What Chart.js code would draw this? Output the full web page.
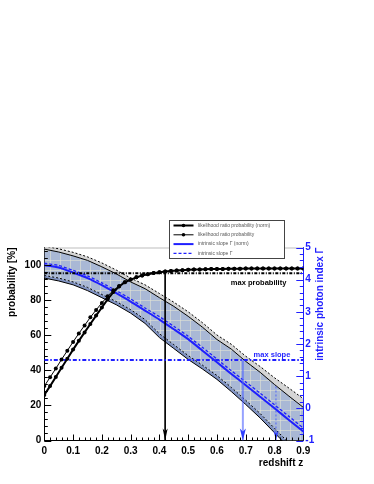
<!DOCTYPE html>
<html>
<head>
<meta charset="utf-8">
<script src="https://cdn.jsdelivr.net/npm/chart.js@4.4.0/dist/chart.umd.min.js"></script>
<style>
  html, body { margin: 0; padding: 0; background: #fff; }
  #c { display: block; }
</style>
</head>
<body>
<canvas id="c" width="374" height="484"></canvas>
<script>
const FONT = "'Liberation Sans', Arial, Helvetica, sans-serif";
const BLUE = '#1f1fff';

// redshift grid of the likelihood curves
const zProb = [0, 0.02, 0.04, 0.06, 0.08, 0.1, 0.12, 0.14, 0.16, 0.18,
  0.2, 0.22, 0.24, 0.26, 0.28, 0.3, 0.32, 0.34, 0.36, 0.38,
  0.4, 0.42, 0.44, 0.46, 0.48, 0.5, 0.52, 0.54, 0.56, 0.58,
  0.6, 0.62, 0.64, 0.66, 0.68, 0.7, 0.72, 0.74, 0.76, 0.78,
  0.8, 0.82, 0.84, 0.86, 0.88, 0.9];

// likelihood ratio probability [%]
const probNorm = [26, 31, 36.2, 41.5, 46.6, 51.8, 56.8, 61.6, 66.4, 71.2,
  75.8, 80.4, 84.6, 87.8, 90.2, 91.7, 93.0, 94.0, 94.8, 95.4,
  95.9, 96.3, 96.6, 96.9, 97.1, 97.3, 97.4, 97.5, 97.6, 97.7,
  97.8, 97.8, 97.9, 97.9, 97.9, 98.0, 98.0, 98.0, 98.0, 98.0,
  98.1, 98.1, 98.1, 98.1, 98.1, 98.1];
const probPlain = [31, 36, 41, 46.2, 51.2, 56.2, 61, 65.6, 70.2, 74.4,
  78.4, 82.2, 85.6, 88.0, 90.2, 91.7, 93.0, 94.0, 94.8, 95.4,
  95.9, 96.3, 96.6, 96.9, 97.1, 97.3, 97.4, 97.5, 97.6, 97.7,
  97.8, 97.8, 97.9, 97.9, 97.9, 98.0, 98.0, 98.0, 98.0, 98.0,
  98.1, 98.1, 98.1, 98.1, 98.1, 98.1];

// redshift grid of the photon index curves
const zBand = [0, 0.05, 0.1, 0.15, 0.2, 0.25, 0.3, 0.35, 0.4, 0.45,
  0.5, 0.55, 0.6, 0.65, 0.7, 0.75, 0.8, 0.85, 0.9];

// intrinsic photon index and its band
const slopeNorm = [4.45, 4.38, 4.22, 4.05, 3.83, 3.58, 3.32, 3.04, 2.76, 2.46,
  2.15, 1.79, 1.43, 1.07, 0.72, 0.36, 0.00, -0.36, -0.72];
const slopePlain = [4.51, 4.44, 4.29, 4.12, 3.90, 3.66, 3.40, 3.12, 2.85, 2.55,
  2.24, 1.89, 1.53, 1.17, 0.82, 0.47, 0.11, -0.25, -0.61];
const bandHiPlain = [5.04, 4.96, 4.85, 4.71, 4.52, 4.30, 4.05, 3.84, 3.57, 3.30,
  3.00, 2.66, 2.28, 1.99, 1.62, 1.30, 0.95, 0.63, 0.30];
const bandHiNorm = [4.95, 4.86, 4.74, 4.60, 4.40, 4.18, 3.93, 3.72, 3.44, 3.17,
  2.86, 2.52, 2.14, 1.84, 1.46, 1.12, 0.74, 0.38, 0.03];
const bandLoPlain = [4.13, 4.05, 3.93, 3.76, 3.54, 3.32, 3.07, 2.76, 2.32, 1.98,
  1.64, 1.34, 1.02, 0.65, 0.25, -0.16, -0.62, -1.08, -1.54];
const bandLoNorm = [4.05, 3.96, 3.84, 3.66, 3.44, 3.22, 2.96, 2.64, 2.20, 1.86,
  1.52, 1.22, 0.90, 0.52, 0.12, -0.30, -0.76, -1.22, -1.68];

// limits
const maxProb = 95.3;
const maxSlope = 1.5;
const zLimProb = 0.42;
const zLimSlope = 0.69;
const zLimSlopePlain = 0.805;
const slopeAtLimPlain = 0.68;

// tick labels
const xTicks = [0, 0.1, 0.2, 0.3, 0.4, 0.5, 0.6, 0.7, 0.8, 0.9];
const yTicks = [0, 20, 40, 60, 80, 100];
const y2Ticks = [-1, 0, 1, 2, 3, 4, 5];

const legendRows = [
  { label: 'likelihood ratio probability (norm)', ds: 0 },
  { label: 'likelihood ratio probability', ds: 1 },
  { label: 'intrinsic slope \u0393 (norm)', ds: 7 },
  { label: 'intrinsic slope \u0393', ds: 8 }
];

const xy = (xs, ys) => xs.map((x, i) => ({ x, y: ys[i] }));

// blue-grey fill with a light mesh, like the ROOT band
function meshFill() {
  const c = document.createElement('canvas');
  c.width = 10; c.height = 10;
  const g = c.getContext('2d');
  g.fillStyle = '#a9b8d5';
  g.fillRect(0, 0, 10, 10);
  g.fillStyle = 'rgba(226,226,212,0.6)';
  g.fillRect(0, 0, 10, 1);
  g.fillRect(0, 0, 1, 10);
  return document.getElementById('c').getContext('2d').createPattern(c, 'repeat');
}

const line = (data, extra) => Object.assign({
  data, pointRadius: 0, borderWidth: 1, borderColor: '#000', tension: 0, fill: false
}, extra);

/* ===============================
   Decorations: ticks, titles, legend
=============================== */
const decor = {
  id: 'decor',
  beforeDatasetsDraw(chart) {
    const { ctx, chartArea: a } = chart;
    ctx.save();
    ctx.strokeStyle = '#bdbdbd';
    ctx.lineWidth = 1;
    ctx.beginPath();
    ctx.moveTo(a.left, a.top + 0.5);
    ctx.lineTo(a.right, a.top + 0.5);
    ctx.stroke();
    ctx.restore();
  },
  afterDatasetsDraw(chart) {
    const ctx = chart.ctx;
    chart.data.datasets.forEach((ds, i) => {
      if (!ds.arrowHead) return;
      const pts = chart.getDatasetMeta(i).data;
      const tip = pts[pts.length - 1];
      const w = ds.arrowHead.w, h = ds.arrowHead.h;
      ctx.save();
      ctx.fillStyle = ds.arrowHead.color;
      ctx.beginPath();
      ctx.moveTo(tip.x, tip.y);
      ctx.lineTo(tip.x - w / 2, tip.y - h);
      ctx.lineTo(tip.x, tip.y - h + 3);
      ctx.lineTo(tip.x + w / 2, tip.y - h);
      ctx.closePath();
      ctx.fill();
      ctx.restore();
    });
  },
  afterDraw(chart) {
    const { ctx, chartArea: a, scales } = chart;
    const xs = scales.x, ys = scales.y, y2 = scales.y2;
    ctx.save();
    ctx.lineWidth = 1;

    // inward ticks
    const tick = (color, segs) => {
      ctx.strokeStyle = color;
      ctx.beginPath();
      segs.forEach(s => { ctx.moveTo(s[0], s[1]); ctx.lineTo(s[2], s[3]); });
      ctx.stroke();
    };
    const segX = [];
    for (let k = 0; k <= 45; k++) {
      const px = Math.round(xs.getPixelForValue(k * 0.02)) + 0.5;
      const len = k % 5 === 0 ? 6 : 3;
      segX.push([px, a.bottom, px, a.bottom - len]);
    }
    tick('#000', segX);
    const segY = [];
    for (let k = 0; k <= 27; k++) {
      const py = Math.round(ys.getPixelForValue(k * 4)) + 0.5;
      const len = k % 5 === 0 ? 7 : 3.5;
      segY.push([a.left, py, a.left + len, py]);
    }
    tick('#000', segY);
    const segY2 = [];
    for (let k = 0; k <= 30; k++) {
      const py = Math.round(y2.getPixelForValue(-1 + k * 0.2)) + 0.5;
      const len = k % 5 === 0 ? 7 : 3.5;
      segY2.push([a.right, py, a.right - len, py]);
    }
    tick(BLUE, segY2);

    // axis titles
    ctx.font = 'bold 10px ' + FONT;
    ctx.textBaseline = 'middle';
    ctx.fillStyle = '#000';
    ctx.textAlign = 'right';
    ctx.fillText('redshift z', a.right, 463);
    ctx.save();
    ctx.translate(12.5, a.top);
    ctx.rotate(-Math.PI / 2);
    ctx.fillText('probability [%]', 0, 0);
    ctx.restore();
    ctx.save();
    ctx.fillStyle = BLUE;
    ctx.translate(320.5, a.top);
    ctx.rotate(-Math.PI / 2);
    ctx.fillText('intrinsic photon index \u0393', 0, 0);
    ctx.restore();

    // limit labels
    ctx.font = 'bold 7.5px ' + FONT;
    ctx.fillStyle = '#000';
    ctx.fillText('max probability', a.right - 17, ys.getPixelForValue(maxProb) + 10);
    ctx.fillStyle = BLUE;
    ctx.fillText('max slope', a.right - 13, y2.getPixelForValue(maxSlope) - 5.5);

    // legend box
    const bx = 169.5, by = 220.5, bw = 115, bh = 38;
    ctx.fillStyle = '#fff';
    ctx.fillRect(bx, by, bw, bh);
    ctx.strokeStyle = '#444';
    ctx.strokeRect(bx, by, bw, bh);
    ctx.font = '5px ' + FONT;
    ctx.textAlign = 'left';
    legendRows.forEach((r, i) => {
      const ds = chart.data.datasets[r.ds];
      const yy = 225.5 + i * 9.3;
      ctx.save();
      ctx.strokeStyle = ds.borderColor;
      ctx.lineWidth = ds.borderWidth;
      ctx.setLineDash(ds.borderDash || []);
      ctx.beginPath();
      ctx.moveTo(173.5, yy);
      ctx.lineTo(193.5, yy);
      ctx.stroke();
      ctx.restore();
      if (ds.pointRadius > 0) {
        ctx.fillStyle = '#000';
        ctx.beginPath();
        ctx.arc(183.5, yy, 1.8, 0, Math.PI * 2);
        ctx.fill();
      }
      ctx.fillStyle = '#555';
      ctx.fillText(r.label, 198, yy);
    });
    ctx.restore();
  }
};

const chart = new Chart(document.getElementById('c'), {
  type: 'line',
  data: {
    datasets: [
      line(xy(zProb, probNorm), { yAxisID: 'y', borderWidth: 2, pointRadius: 2, pointBackgroundColor: '#000', pointBorderWidth: 0, order: 0 }),
      line(xy(zProb, probPlain), { yAxisID: 'y', borderWidth: 1, pointRadius: 2, pointBackgroundColor: '#000', pointBorderWidth: 0, order: 0 }),
      line(xy([0, 0.9], [maxProb, maxProb]), { yAxisID: 'y', borderWidth: 2, borderDash: [3, 1.5, 1, 1.5], order: 1 }),
      line(xy([0, 0.9], [maxSlope, maxSlope]), { yAxisID: 'y2', borderWidth: 2, borderColor: BLUE, borderDash: [4, 2, 1.5, 2], order: 1 }),
      line(xy([zLimProb, zLimProb], [maxProb, 0]), { yAxisID: 'y', borderWidth: 1, order: 1,
        arrowHead: { color: '#000', w: 5, h: 12 } }),
      line(xy([zLimSlope, zLimSlope], [maxSlope, -1]), { yAxisID: 'y2', borderWidth: 2, borderColor: 'rgba(80,100,255,0.6)', order: 1,
        arrowHead: { color: '#2f3fff', w: 6, h: 12 } }),
      line(xy([zLimSlopePlain, zLimSlopePlain], [slopeAtLimPlain, -1]), { yAxisID: 'y2', borderWidth: 1, borderColor: 'rgba(60,80,255,0.8)', borderDash: [2, 2], order: 1,
        arrowHead: { color: '#2f3fff', w: 5, h: 10 } }),
      line(xy(zBand, slopeNorm), { yAxisID: 'y2', borderWidth: 2, borderColor: BLUE, tension: 0.2, order: 2 }),
      line(xy(zBand, slopePlain), { yAxisID: 'y2', borderWidth: 1.3, borderColor: BLUE, borderDash: [3, 2], tension: 0.2, order: 2 }),
      line(xy(zBand, bandHiPlain), { yAxisID: 'y2', borderDash: [2, 2], fill: '+1', backgroundColor: '#d5d5d5', order: 3 }),
      line(xy(zBand, bandHiNorm), { yAxisID: 'y2', fill: '+1', backgroundColor: meshFill(), order: 3 }),
      line(xy(zBand, bandLoPlain), { yAxisID: 'y2', borderDash: [2, 2], fill: '+1', backgroundColor: '#8093c2', order: 3 }),
      line(xy(zBand, bandLoNorm), { yAxisID: 'y2', order: 3 })
    ]
  },
  options: {
    responsive: false,
    animation: false,
    events: [],
    layout: { padding: { top: 247.5, left: 0, right: 0, bottom: 0 } },
    plugins: {
      legend: { display: false },
      tooltip: { enabled: false },
      filler: { drawTime: 'beforeDatasetsDraw' }
    },
    scales: {
      x: {
        type: 'linear', min: 0, max: 0.9,
        afterBuildTicks: s => { s.ticks = xTicks.map(v => ({ value: v })); },
        afterFit: s => { s.height = 43.5; },
        grid: { display: false, drawTicks: false },
        border: { color: '#000', width: 1 },
        ticks: {
          color: '#000', padding: 5, maxRotation: 0, autoSkip: false,
          font: { family: FONT, size: 10, weight: 'bold' },
          callback: v => (v === 0 ? '0' : v.toFixed(1))
        }
      },
      y: {
        position: 'left', min: 0, max: 110,
        afterBuildTicks: s => { s.ticks = yTicks.map(v => ({ value: v })); },
        afterFit: s => { s.width = 44.3; },
        grid: { display: false, drawTicks: false },
        border: { color: '#000', width: 1 },
        ticks: { color: '#000', padding: 3, font: { family: FONT, size: 10, weight: 'bold' } }
      },
      y2: {
        position: 'right', min: -1, max: 5,
        afterBuildTicks: s => { s.ticks = y2Ticks.map(v => ({ value: v })); },
        afterFit: s => { s.width = 70.7; },
        grid: { display: false, drawTicks: false },
        border: { color: BLUE, width: 1 },
        ticks: { color: BLUE, padding: 2, font: { family: FONT, size: 10, weight: 'bold' } }
      }
    }
  },
  plugins: [decor]
});
</script>
</body>
</html>
